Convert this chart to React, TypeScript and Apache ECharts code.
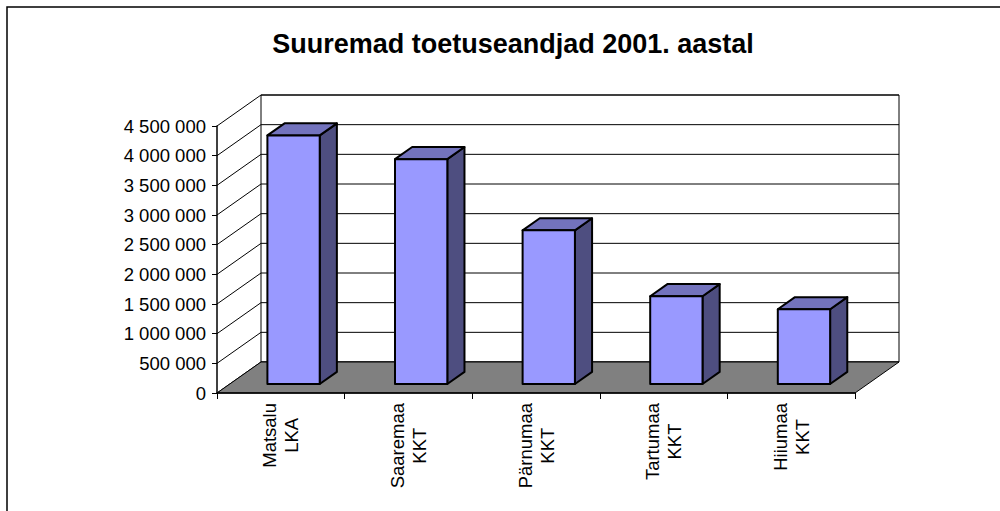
import React, { useEffect, useRef } from "react";
import * as echarts from "echarts";

const TITLE = "Suuremad toetuseandjad 2001. aastal";
const categories = ["Matsalu\nLKA", "Saaremaa\nKKT", "Pärnumaa\nKKT", "Tartumaa\nKKT", "Hiiumaa\nKKT"];
const values = [4190000, 3790000, 2590000, 1480000, 1260000];
const yMin = 0;
const yMax = 4500000;
const yStep = 500000;

// pseudo-3D geometry (pixels / fractions)
const DX = 44;
const DY = -31;
const D0 = 0.29;
const D1 = 0.68;
const BAR_FRAC = 0.41;
const FONT = "'Liberation Sans', Arial, sans-serif";

function fmt(v: number): string {
  return String(v).replace(/\B(?=(\d{3})+(?!\d))/g, " ");
}

export default function App() {
  const ref = useRef<HTMLDivElement>(null);
  useEffect(() => {
    if (!ref.current) return;
    const chart = echarts.init(ref.current, undefined, { renderer: "svg" });
    const option: any = {
      animation: false,
      backgroundColor: "#fff",
      title: {
        text: TITLE,
        left: 508,
        top: 25,
        textAlign: "center",
        textStyle: { fontSize: 27, fontWeight: "bold", fontFamily: FONT, color: "#000" },
      },
      graphic: [
        {
          type: "rect",
          silent: true,
          z: -10,
          shape: { x: 7, y: 7, width: 1200, height: 800 },
          style: { fill: "none", stroke: "#000", lineWidth: 1.5 },
        },
      ],
      grid: { left: 217, top: 126, width: 638, height: 267, containLabel: false },
      xAxis: {
        type: "category",
        data: categories,
        z: 5,
        axisLine: { show: true, lineStyle: { color: "#000", width: 1.5 } },
        axisTick: { show: true, length: 6, lineStyle: { color: "#000", width: 1 } },
        axisLabel: {
          rotate: 90,
          margin: 10,
          interval: 0,
          color: "#000",
          fontSize: 18.5,
          fontFamily: FONT,
          formatter: (val: string) => val.split("\n").map((s) => `{c|${s}}`).join("\n"),
          rich: { c: { align: "center", fontSize: 18.5, lineHeight: 22, fontFamily: FONT, color: "#000" } },
        },
        splitLine: { show: false },
      },
      yAxis: {
        type: "value",
        min: yMin,
        max: yMax,
        interval: yStep,
        z: 5,
        axisLine: { show: true, lineStyle: { color: "#000", width: 1.5 } },
        axisTick: { show: true, length: 5, lineStyle: { color: "#000", width: 1 } },
        axisLabel: { margin: 11, color: "#000", fontSize: 18.5, fontFamily: FONT, formatter: (v: number) => fmt(v) },
        splitLine: { show: false },
      },
      series: [
        {
          type: "custom",
          z: 1,
          silent: true,
          data: [[0, 0]],
          renderItem: (params: any, api: any) => {
            const cs = params.coordSys;
            const xl = cs.x;
            const xr = cs.x + cs.width;
            const yb = api.coord([0, yMin])[1];
            const yt = api.coord([0, yMax])[1];
            const children: any[] = [];
            children.push({
              type: "polygon",
              shape: { points: [[xl, yb], [xl + DX, yb + DY], [xl + DX, yt + DY], [xl, yt]] },
              style: { fill: "#fff", stroke: null },
            });
            children.push({
              type: "rect",
              shape: { x: xl + DX, y: yt + DY, width: xr - xl, height: yb - yt },
              style: { fill: "#fff", stroke: "#000", lineWidth: 1 },
            });
            for (let v = yMin; v <= yMax; v += yStep) {
              const y = api.coord([0, v])[1];
              children.push({
                type: "line",
                shape: { x1: xl, y1: y, x2: xl + DX, y2: y + DY },
                style: { stroke: "#000", lineWidth: 1 },
              });
              children.push({
                type: "line",
                shape: { x1: xl + DX, y1: y + DY, x2: xr + DX, y2: y + DY },
                style: { stroke: "#000", lineWidth: 1 },
              });
            }
            children.push({
              type: "polygon",
              shape: { points: [[xl, yb], [xr, yb], [xr + DX, yb + DY], [xl + DX, yb + DY]] },
              style: { fill: "#808080", stroke: "#000", lineWidth: 1 },
            });
            return { type: "group", children };
          },
        },
        {
          type: "custom",
          z: 3,
          data: values.map((v, i) => [i, v]),
          renderItem: (params: any, api: any) => {
            const i = api.value(0);
            const v = api.value(1);
            const c0 = api.coord([i, 0]);
            const c1 = api.coord([i, v]);
            const w = api.size([1, 0])[0] * BAR_FRAC;
            const a0 = D0 * DX, b0 = D0 * DY, a1 = D1 * DX, b1 = D1 * DY;
            const xL = c0[0] - w / 2;
            const xR = c0[0] + w / 2;
            const y0 = c0[1];
            const yv = c1[1];
            const st = { stroke: "#000", lineWidth: 2, lineJoin: "round" };
            return {
              type: "group",
              children: [
                {
                  type: "polygon",
                  shape: { points: [[xR + a0, yv + b0], [xR + a1, yv + b1], [xR + a1, y0 + b1], [xR + a0, y0 + b0]] },
                  style: { fill: "#4E4E80", ...st },
                },
                {
                  type: "polygon",
                  shape: { points: [[xL + a0, yv + b0], [xR + a0, yv + b0], [xR + a1, yv + b1], [xL + a1, yv + b1]] },
                  style: { fill: "#7373BD", ...st },
                },
                {
                  type: "rect",
                  shape: { x: xL + a0, y: yv + b0, width: w, height: y0 - yv },
                  style: { fill: "#9999FF", ...st },
                },
              ],
            };
          },
        },
      ],
    };
    chart.setOption(option);
    return () => chart.dispose();
  }, []);
  return (
    <div
      ref={ref}
      style={{ position: "fixed", left: 0, top: 0, width: 1000, height: 511 }}
    />
  );
}
